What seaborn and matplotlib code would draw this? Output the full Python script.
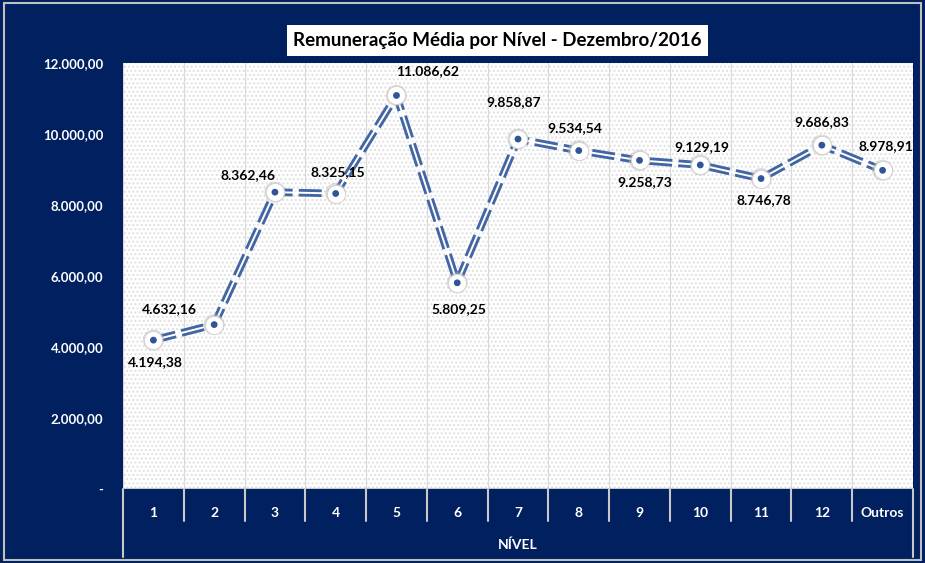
import matplotlib
matplotlib.use("Agg")
import matplotlib.pyplot as plt
import matplotlib.patches as mpatches
import seaborn as sns
import pandas as pd

# dados
niveis = ["1", "2", "3", "4", "5", "6", "7", "8", "9", "10", "11", "12", "Outros"]
remuneracao = [4194.38, 4632.16, 8362.46, 8325.15, 11086.62, 5809.25, 9858.87,
               9534.54, 9258.73, 9129.19, 8746.78, 9686.83, 8978.91]
yticks = [0, 2000, 4000, 6000, 8000, 10000, 12000]

# deslocamento dos rótulos (pixels)
offsets = [(2, -22), (-45, 16), (-27, 17), (2, 21), (31, 24), (2, -26), (-4, 37),
           (-4, 22), (5, -22), (2, 18), (3, -22), (0, 23), (3, 24)]

def br(v):
    s = f"{v:,.2f}"
    return s.replace(",", "X").replace(".", ",").replace("X", ".")

navy = "#002060"
sns.set_style("white")
plt.rcParams["font.family"] = ["Lato", "DejaVu Sans"]

fig = plt.figure(figsize=(9.25, 5.63), dpi=100, facecolor=navy)
ax = fig.add_axes([0.133, 0.1314, 0.854, 0.7566])
ax.set_facecolor("white")
ax.add_patch(mpatches.Rectangle((0, 0), 1, 1, transform=ax.transAxes, facecolor="white",
                                edgecolor="#e0e0e0", hatch="....", lw=0, zorder=0))

df = pd.DataFrame({"nivel": niveis, "valor": remuneracao})
# linha dupla tracejada
sns.lineplot(data=df, x="nivel", y="valor", ax=ax, color="#4166a3", lw=5.5,
             linestyle=(0, (3, 0.8)), zorder=3)
sns.lineplot(data=df, x="nivel", y="valor", ax=ax, color="white", lw=1.4, zorder=4)
# sombra dos marcadores
sns.scatterplot(data=df, x="nivel", y="valor", ax=ax, s=230, color="#bdbdbd",
                edgecolor="none", alpha=0.5, zorder=5)
sns.scatterplot(data=df, x="nivel", y="valor", ax=ax, s=170, color="white",
                edgecolor="#d0d0d0", linewidth=0.6, zorder=5)
sns.scatterplot(data=df, x="nivel", y="valor", ax=ax, s=24, color="#2f5597",
                edgecolor="none", zorder=6)

for i, v in enumerate(remuneracao):
    ax.annotate(br(v), (i, v), xytext=offsets[i], textcoords="offset pixels",
                ha="center", va="center", fontsize=10, fontweight="bold", color="black",
                zorder=7)

ax.set_xlim(-0.5, len(niveis) - 0.5)
ax.set_ylim(0, 12000)
ax.set_yticks(yticks)
ax.set_yticklabels(["-" if t == 0 else br(t) for t in yticks], color="white",
                   fontsize=9.5, fontweight="bold")
ax.tick_params(axis="y", length=0, pad=14)
ax.set_xticks(range(len(niveis)))
ax.set_xticklabels(niveis, color="white", fontsize=10, fontweight="bold")
ax.tick_params(axis="x", length=0, pad=13)
ax.set_xlabel("NÍVEL", color="white", fontsize=10, fontweight="bold", labelpad=14)
ax.set_ylabel("")

# divisórias das categorias
for b in range(len(niveis) + 1):
    x = b - 0.5
    ax.axvline(x, color="#d9d9d9", lw=0.8, zorder=1)
    ymin = -0.16 if b in (0, len(niveis)) else -0.075
    ax.plot([x, x], [0, ymin], transform=ax.get_xaxis_transform(), color="#c8c8c8",
            lw=1.5, clip_on=False, zorder=1)

for s in ax.spines.values():
    s.set_visible(False)
ax.axhline(0, color="#c8c8c8", lw=1.5, zorder=2)

fig.text(0.538, 0.928, "Remuneração Média por Nível - Dezembro/2016", ha="center",
         va="center", fontsize=13.5, fontweight="bold", color="black",
         bbox=dict(boxstyle="square,pad=0.35", facecolor="white", edgecolor="none"))

fig.patches.append(mpatches.Rectangle((0.004, 0.006), 0.992, 0.988, transform=fig.transFigure,
                                      fill=False, edgecolor="#bfbfbf", lw=1.5))

fig.savefig("out.png", dpi=100, facecolor=navy)
